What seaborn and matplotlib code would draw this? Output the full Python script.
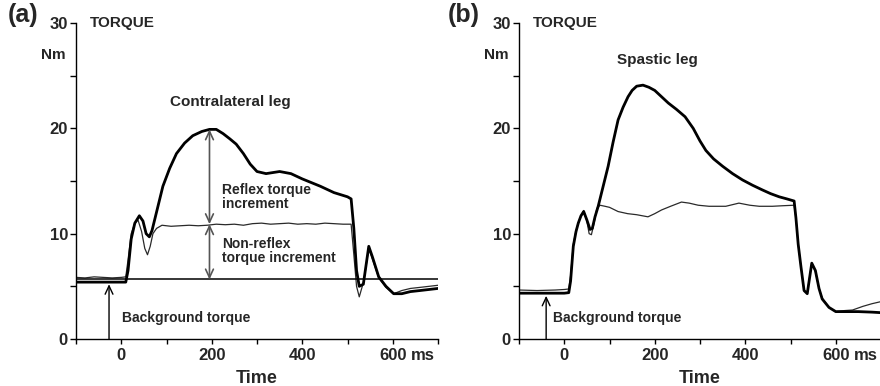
import matplotlib
matplotlib.use("Agg")
import matplotlib.pyplot as plt
import seaborn as sns
import pandas as pd
import numpy as np

# ---------------- data ----------------
# Panel (a): contralateral leg
a_thick_t = [-100, -60, -20, 0, 10, 15, 22, 30, 40, 48, 55, 62, 68, 80, 92, 107, 122, 140,
             158, 178, 195, 210, 225, 240, 254, 270, 285, 300, 320, 350, 375, 400, 440,
             470, 500, 508, 514, 520, 526, 535, 547, 555, 569, 585, 602, 620, 639, 660, 680, 700]
a_thick_y = [5.4, 5.4, 5.4, 5.4, 5.4, 6.5, 9.5, 11.0, 11.7, 11.2, 10.0, 9.7, 10.3, 12.4, 14.5,
             16.2, 17.6, 18.6, 19.3, 19.7, 19.9, 19.9, 19.5, 19.0, 18.5, 17.6, 16.6, 15.9, 15.7,
             15.9, 15.7, 15.2, 14.5, 13.9, 13.5, 13.3, 10.5, 6.5, 5.0, 5.2, 8.8, 7.8, 5.9, 5.0,
             4.3, 4.3, 4.5, 4.6, 4.7, 4.8]
a_thin_t = [-100, -80, -60, -40, -20, 0, 10, 15, 22, 30, 37, 45, 52, 58, 64, 70, 78, 90, 110,
            130, 150, 170, 190, 210, 230, 250, 270, 290, 310, 330, 350, 370, 390, 410, 430,
            450, 470, 490, 508, 514, 520, 526, 536, 547, 555, 569, 585, 602, 620, 639, 660, 680, 700]
a_thin_y = [5.85, 5.8, 5.9, 5.85, 5.8, 5.85, 5.9, 7.5, 10.0, 11.0, 11.3, 10.2, 8.6, 8.0, 8.8,
            10.0, 10.5, 10.8, 10.7, 10.75, 10.8, 10.75, 10.8, 10.9, 10.85, 10.9, 10.8, 10.95,
            11.0, 10.9, 10.95, 11.0, 10.9, 10.95, 10.9, 11.0, 10.95, 10.9, 10.9, 8.0, 5.0, 4.0,
            5.5, 8.6, 7.6, 5.8, 4.9, 4.3, 4.6, 4.8, 4.9, 5.0, 5.1]
a_background = 5.65

# Panel (b): spastic leg
b_thick_t = [-100, -60, -20, 0, 10, 14, 20, 26, 31, 37, 43, 50, 57, 62, 68, 75, 86, 97, 108,
             119, 130, 141, 150, 160, 174, 187, 200, 215, 230, 248, 267, 285, 300, 313, 330,
             350, 372, 394, 416, 438, 456, 475, 492, 508, 512, 517, 523, 530, 537, 547, 555,
             563, 570, 585, 600, 620, 650, 680, 700]
b_thick_y = [4.35, 4.35, 4.35, 4.35, 4.4, 5.5, 8.8, 10.2, 11.0, 11.7, 12.1, 11.3, 10.4, 10.5,
             11.6, 12.6, 14.5, 16.4, 18.7, 20.8, 22.0, 23.0, 23.6, 24.0, 24.1, 23.9, 23.6, 23.0,
             22.4, 21.8, 21.1, 20.0, 18.8, 17.9, 17.1, 16.4, 15.7, 15.1, 14.6, 14.15, 13.8,
             13.5, 13.3, 13.1, 11.5, 9.0, 6.9, 4.6, 4.3, 7.2, 6.5, 4.8, 3.8, 3.0, 2.6, 2.6,
             2.6, 2.55, 2.5]
b_thin_t = [-100, -60, -20, 0, 10, 14, 20, 26, 31, 37, 43, 50, 55, 60, 66, 72, 79, 90, 100,
            119, 140, 160, 185, 200, 215, 235, 259, 276, 296, 320, 357, 386, 410, 431, 460,
            482, 508, 512, 517, 523, 530, 537, 547, 555, 563, 570, 585, 600, 620, 637, 660, 680, 700]
b_thin_y = [4.65, 4.6, 4.65, 4.7, 4.75, 6.0, 9.0, 10.3, 11.0, 11.7, 12.2, 11.2, 10.0, 9.9,
            11.0, 12.4, 12.7, 12.6, 12.5, 12.1, 11.9, 11.8, 11.6, 11.9, 12.25, 12.6, 13.0,
            12.9, 12.7, 12.6, 12.6, 12.9, 12.7, 12.6, 12.6, 12.65, 12.7, 11.5, 9.0, 6.9, 4.6,
            4.4, 7.2, 6.4, 4.8, 3.9, 3.0, 2.6, 2.7, 2.75, 3.1, 3.35, 3.55]

x_major = [0, 200, 400, 600]
x_minor = [-100, 100, 300, 500, 700]
y_major = [0, 10, 20, 30]
y_minor = [5, 15, 25]
x_labels = ["0", "200", "400", "600"]
y_labels = ["0", "10", "20", "30"]

# ---------------- style ----------------
sns.set_style("ticks")
plt.rcParams['font.family'] = ['Liberation Sans', 'DejaVu Sans']
plt.rcParams['font.weight'] = 'bold'
plt.rcParams['lines.solid_joinstyle'] = 'round'
plt.rcParams['lines.solid_capstyle'] = 'round'

fig = plt.figure(figsize=(8.8, 3.86), dpi=100)
ax_a = fig.add_axes([76 / 880, 47 / 386, 362 / 880, 316 / 386])
ax_b = fig.add_axes([519 / 880, 47 / 386, 362 / 880, 316 / 386])


def draw(ax, thick_t, thick_y, thin_t, thin_y):
    df_thick = pd.DataFrame({"t": thick_t, "y": thick_y})
    df_thin = pd.DataFrame({"t": thin_t, "y": thin_y})
    sns.lineplot(data=df_thin, x="t", y="y", ax=ax, color="#2a2a2a", lw=0.9,
                 estimator=None, sort=False)
    sns.lineplot(data=df_thick, x="t", y="y", ax=ax, color="black", lw=2.0,
                 estimator=None, sort=False)
    for ln in ax.get_lines():
        ln.set_solid_joinstyle('round')
        ln.set_solid_capstyle('round')
    ax.set_xlim(-100, 700)
    ax.set_ylim(0, 30)
    for s in ["top", "right"]:
        ax.spines[s].set_visible(False)
    for s in ["left", "bottom"]:
        ax.spines[s].set_linewidth(1.0)
        ax.spines[s].set_color("black")
    ax.set_xticks(x_major)
    ax.set_xticks(x_minor, minor=True)
    ax.set_yticks(y_major)
    ax.set_yticks(y_minor, minor=True)
    ax.set_xticklabels(x_labels, fontsize=12, fontweight='bold')
    ax.set_yticklabels(y_labels, fontsize=12, fontweight='bold')
    ax.tick_params(axis='x', which='both', direction='out', length=3.8, width=1.0, pad=3,
                   color='black')
    ax.tick_params(axis='y', which='both', direction='out', length=4.3, width=1.0, pad=1.5,
                   color='black')
    ax.set_xlabel("Time", fontsize=13, fontweight='bold', labelpad=4.5)
    ax.set_ylabel("")
    ax.annotate("ms", xy=(600, 0), xycoords='data', xytext=(13, -6.8),
                textcoords='offset points', ha='left', va='top', fontsize=12,
                fontweight='bold')
    ax.annotate("TORQUE", xy=(0, 1), xycoords='axes fraction', xytext=(10, 0),
                textcoords='offset points', ha='left', va='center', fontsize=11,
                fontweight='bold')
    ax.annotate("Nm", xy=(0, 27.0), xycoords=('axes fraction', 'data'), xytext=(-7.5, 0),
                textcoords='offset points', ha='right', va='center', fontsize=11,
                fontweight='bold')


draw(ax_a, a_thick_t, a_thick_y, a_thin_t, a_thin_y)
draw(ax_b, b_thick_t, b_thick_y, b_thin_t, b_thin_y)

# Panel (a) annotations
ax_a.axhline(a_background, color='black', lw=1.1)
arrow_kw = dict(arrowstyle='<->,head_length=0.6,head_width=0.28', color='#555555', lw=1.2,
                shrinkA=0, shrinkB=0)
ax_a.annotate("", xy=(195, 19.9), xytext=(195, 10.9), arrowprops=arrow_kw)
ax_a.annotate("", xy=(195, 10.9), xytext=(195, a_background), arrowprops=arrow_kw)
ax_a.annotate("", xy=(-27, 5.2), xytext=(-27, 0),
              arrowprops=dict(arrowstyle='->,head_length=0.6,head_width=0.28', color='black',
                              lw=1.0, shrinkA=0, shrinkB=0))
ax_a.text(240, 22.5, "Contralateral leg", ha='center', va='center', fontsize=11,
          fontweight='bold')
ax_a.text(223, 13.5, "Reflex torque\nincrement", ha='left', va='center', fontsize=10,
          fontweight='bold', linespacing=1.05)
ax_a.text(223, 8.35, "Non-reflex\ntorque increment", ha='left', va='center', fontsize=10,
          fontweight='bold', linespacing=1.05)
ax_a.text(2, 2.0, "Background torque", ha='left', va='center', fontsize=10,
          fontweight='bold')

# Panel (b) annotations
ax_b.annotate("", xy=(-40, 4.1), xytext=(-40, 0),
              arrowprops=dict(arrowstyle='->,head_length=0.6,head_width=0.28', color='black',
                              lw=1.0, shrinkA=0, shrinkB=0))
ax_b.text(206, 26.5, "Spastic leg", ha='center', va='center', fontsize=11, fontweight='bold')
ax_b.text(-24, 2.0, "Background torque", ha='left', va='center', fontsize=10,
          fontweight='bold')

fig.text(8 / 880, 1 - 15 / 386, "(a)", ha='left', va='center', fontsize=18, fontweight='bold')
fig.text(448 / 880, 1 - 15 / 386, "(b)", ha='left', va='center', fontsize=18, fontweight='bold')

fig.savefig("out.png", dpi=100)
